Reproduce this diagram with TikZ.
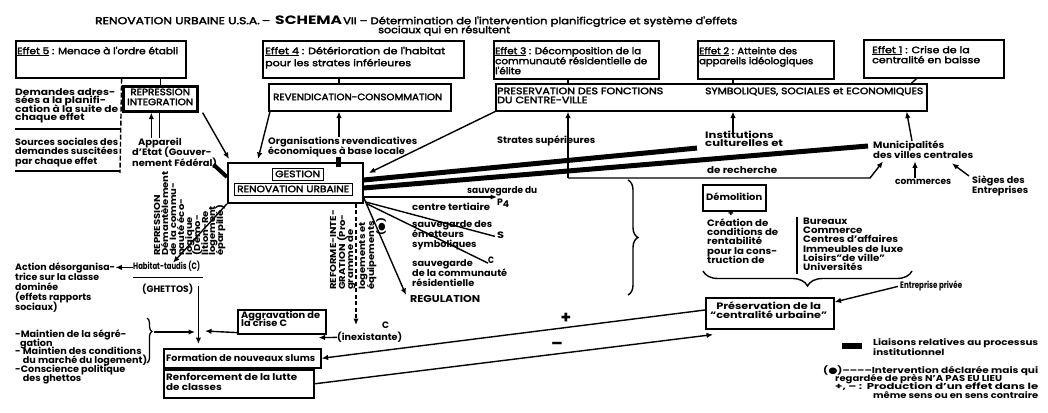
\documentclass[tikz,border=0pt]{standalone}
\usepackage{fontspec}
\usepackage{graphicx}
\usepackage{array}
\setmainfont{Poppins}
\newfontfamily\pmed{Poppins}[FakeBold=2.5]
\newfontfamily\dvsym{DejaVu Sans}
\usetikzlibrary{arrows.meta,decorations.pathreplacing,calc}

% table columns whose cells do not change the row height
\newcolumntype{L}{>{\setbox0=\hbox\bgroup}l<{\egroup\smash{\box0}}}
\newcolumntype{C}{>{\setbox0=\hbox\bgroup}c<{\egroup\smash{\box0}}}
\def\capv{6.5}

% [align]{style}{name}{x}{first baseline}{line pitch}{lines}{width}{text}
\newcommand\putlabel[9][L]{%
  \node[#2] (#3) at (#4,{#5-0.7*#6}) {%
    \pgfmathsetmacro\lblh{#6*#7}%
    \pgfmathsetmacro\lskip{#6*7/\capv}%
    \fontsize{10}{\lskip pt}\selectfont
    \resizebox*{#8pt}{\lblh pt}{\begin{tabular}{@{}#1@{}}#9\end{tabular}}};}
% vertical text column: {name}{x centre}{bottom y}{text}
\newcommand\vlabel[4]{\node[lb,rotate=90] (#1) at ({#2-2.7},#3)
  {\scalebox{1}[0.86]{\begin{tabular}{@{}L@{}}#4\end{tabular}}};}
\newcommand\boxnode[5][]{\node[bx,minimum width=#4pt,minimum height=#5pt,#1] (#2) at (#3) {};}

\tikzset{
  lr/.style={inner sep=0pt,anchor=north west,font=\pmed\fontsize{10}{9.5}\selectfont},
  lb/.style={inner sep=0pt,anchor=north west,font=\fontsize{10}{9.5}\selectfont\bfseries},
  bx/.style={draw,line width=1.6pt,inner sep=0pt,anchor=north west},
  ln/.style={line width=1.4pt},
  arr/.style={line width=1.4pt,-{Latex[length=6.5pt,width=5.5pt]}},
  bar/.style={line width=5pt},
  sign/.style={inner sep=0pt,anchor=center,font=\fontsize{17}{17}\selectfont\bfseries},
}

\begin{document}
\begin{tikzpicture}[x=1pt,y=-1pt]
\useasboundingbox (0,0) rectangle (1048,412);

% ---------- boxes ----------
\boxnode{e5}{15,40}{170}{37}
\boxnode{e4}{262,40}{201}{37}
\boxnode{e3}{493,40}{165}{38}
\boxnode{e2}{697,40}{136}{38}
\boxnode{e1}{863,39}{140}{38}
\boxnode[line width=2.6pt]{rep}{122,85}{74}{25}
\boxnode{rev}{268,83}{182}{27}
\boxnode{pres}{495,83}{431}{27}
\boxnode[line width=1.8pt]{gest}{227,162}{135}{40}
\boxnode[line width=1.2pt]{gin}{272,168}{51}{12}
\boxnode[line width=1.2pt]{rin}{234,183}{118}{12}
\boxnode{demol}{702,184}{63}{26}
\boxnode{pres2}{705,297}{128}{31}
\boxnode{agg}{237,309}{88}{24}
\boxnode{form}{163,348}{157}{19}
\boxnode{renf}{163,369}{150}{28}
\node[fill,inner sep=0pt,anchor=north west,minimum width=20pt,minimum height=6pt] (legbar) at (842,343) {};

% ---------- title ----------
\def\capv{7}
\putlabel{lr}{ta}{95}{24}{9.5}{1}{175}{RENOVATION URBAINE U.S.A.\,–}
\def\capv{8.5}
\putlabel{lb}{tb}{275}{24}{11.5}{1}{67}{SCHEMA}
\def\capv{6.8}
\putlabel{lr}{tc}{343}{24}{9.5}{1}{394}{VII – Détermination de l'intervention planificgtrice et système d'effets}
\putlabel{lr}{td}{378}{33}{9.5}{1}{132}{sociaux qui en résultent}

% ---------- effects ----------
\def\capv{6.5}
\putlabel{lr}{e5t}{17}{54}{10}{1}{161}{\underline{Effet 5} : Menace à l'ordre établi}
\putlabel{lr}{e4t}{265}{54}{12}{2}{180}{\underline{Effet 4} : Détérioration de l'habitat\\pour les strates inférieures}
\putlabel{lr}{e3t}{495}{54}{10}{3}{152}{\underline{Effet 3} : Décomposition de la\\communauté résidentielle de\\l'élite}
\putlabel{lr}{e2t}{699}{54}{10}{2}{114}{\underline{Effet 2} : Atteinte des\\appareils idéologiques}
\putlabel{lr}{e1t}{872}{53}{10}{2}{108}{\underline{Effet 1} : Crise de la\\centralité en baisse}

% ---------- demands ----------
\putlabel[C]{lr}{rept}{127}{95}{10}{2}{66}{REPRESSION\\INTEGRATION}
\putlabel{lr}{revt}{273}{100}{9.5}{1}{169}{REVENDICATION-CONSOMMATION}
\putlabel{lr}{prest}{497}{94}{9}{2}{166}{PRESERVATION DES FONCTIONS\\DU CENTRE-VILLE}
\putlabel{lr}{prest2}{705}{94}{9}{1}{218}{SYMBOLIQUES, SOCIALES et ECONOMIQUES}

% ---------- left key ----------
\putlabel{lb}{dem}{15}{95}{8.4}{4}{103}{Demandes adres-\\sées a la planifi-\\cation à la suite de\\chaque effet}
\putlabel{lb}{src}{15}{145}{9.6}{3}{103}{Sources sociales des\\demandes suscitées\\par chaque effet}
\coordinate (tl1) at ([xshift=-65pt]e5.south east);
\coordinate (tl2) at (120,173);
\coordinate (h1a) at (15,129); \coordinate (h1b) at (120,129);
\coordinate (h2a) at (15,171); \coordinate (h2b) at (120,171);
\draw[ln,dash pattern=on 5pt off 2pt] (tl1) -- (tl2);
\draw[ln] (h1a) -- (h1b);
\draw[ln] (h2a) -- (h2b);

% ---------- social sources ----------
\putlabel{lb}{app}{132}{145}{10.5}{3}{85}{\hspace*{6pt}Appareil\\d'Etat (Gouver-\\nement Fédéral)}
\putlabel{lb}{org}{268}{144}{10}{2}{149}{Organisations revendicatives\\économiques à base locale}
\putlabel{lb}{strates}{497}{143}{9}{1}{98}{Strates supérieures}
\putlabel{lb}{inst}{705}{138}{8.5}{2}{78}{Institutions\\culturelles et}
\putlabel{lb}{rech}{707}{173}{9}{1}{70}{de recherche}
\putlabel{lb}{munic}{873}{148}{10}{2}{100}{Municipalités\\des villes centrales}
\putlabel{lb}{comm}{895}{184}{9}{1}{56}{commerces}
\putlabel{lb}{sieges}{972}{183}{10}{2}{56}{Sièges des\\Entreprises}

% ---------- planning body ----------
\putlabel{lr}{gestt}{275}{177}{9}{1}{45}{GESTION}
\putlabel{lr}{renovt}{237}{192}{9}{1}{112}{RENOVATION URBAINE}

\putlabel{lb}{sdu}{467}{193}{9}{1}{70}{sauvegarde du}
\putlabel{lb}{ctert}{412}{210}{9}{1}{78}{centre tertiaire}
\putlabel{lb}{p4}{497}{205}{9}{1}{12}{P\raisebox{-3pt}{4}}
\putlabel{lb}{sdes}{412}{227}{10}{3}{80}{sauvegarde des\\émetteurs\\symboliques}
\putlabel{lb}{S}{497}{238}{9}{1}{7}{S}
\putlabel{lb}{scom}{412}{266}{10}{3}{95}{sauvegarde\\de la communauté\\résidentielle}
\putlabel{lb}{C1}{488}{263}{9}{1}{6}{C}
\def\capv{7}
\putlabel{lb}{regul}{410}{302}{10}{1}{70}{REGULATION}
\def\capv{6.5}

\vlabel{r1}{157}{256}{REPRESSION}
\vlabel{r2}{165}{256}{Démantèlement}
\vlabel{r3}{173}{256}{de la commu-}
\vlabel{r4}{181}{256}{nauté éco-}
\vlabel{r5}{189}{256}{logique}
\vlabel{r6}{197}{256}{(Démo-}
\vlabel{r7}{205}{256}{lition-Re}
\vlabel{r8}{212}{256}{logement}
\vlabel{r9}{220}{256}{éparpillé)}
\vlabel{f1}{333}{290}{REFORME-INTE-}
\vlabel{f2}{342}{290}{GRATION (Pro-}
\vlabel{f3}{350}{290}{gramme de}
\vlabel{f4}{362}{290}{logements et}
\vlabel{f5}{371}{290}{équipements}
\vlabel{f6}{381}{236}{({\dvsym●})}

% ---------- right part ----------
\putlabel{lb}{demt}{706}{200}{9}{1}{56}{Démolition}
\node[sign,font=\fontsize{9}{9}\selectfont\bfseries] (dplus) at (731,213.5) {+};
\putlabel{lb}{crea}{707}{226}{9.3}{5}{71}{Création de\\conditions de\\rentabilité\\pour la cons-\\truction de}
\putlabel{lb}{bur}{803}{224}{9.3}{6}{100}{Bureaux\\Commerce\\Centres d'affaires\\Immeubles de luxe\\Loisirs"de ville"\\Universités}
\putlabel{lb}{entr}{900}{288}{9}{1}{62}{Entreprise privée}
\putlabel[C]{lb}{pres2t}{710}{309}{9.5}{2}{117}{Préservation de la\\“centralité urbaine”}

% ---------- lower left ----------
\putlabel{lb}{habt}{133}{269}{9}{1}{67}{Habitat-taudis (C)}
\putlabel{lb}{ghet}{142}{292}{9}{1}{51}{(GHETTOS)}
\putlabel{lb}{act}{15}{270}{10}{5}{100}{Action désorganisa-\\trice sur la classe\\dominée\\(effets rapports\\sociaux)}
\putlabel{lb}{maint}{15}{337}{8.8}{6}{132}{-Maintien de la ségré-\\\hspace*{5pt}gation\\- Maintien des conditions\\\hspace*{8pt}du marché du logement)\\-Conscience politique\\\hspace*{8pt}des ghettos}
\putlabel{lb}{aggt}{241}{318}{8.5}{2}{79}{Aggravation de\\la crise C}
\putlabel{lb}{cin}{382}{328}{9}{1}{7}{C}
\putlabel{lb}{inex}{337}{340}{9}{1}{65}{(inexistante)}
\putlabel{lb}{formt}{166}{361}{9}{1}{149}{Formation de nouveaux slums}
\putlabel{lb}{renft}{166}{380}{10}{2}{131}{Renforcement de la lutte\\de classes}
\node[sign] (plus) at (566,318) {+};
\node[sign] (minus) at (557,346) {\textendash};

% ---------- legend ----------
\def\capv{6}
\putlabel{lb}{leg1}{873}{345}{10}{2}{165}{Liaisons relatives au processus\\institutionnel}
\putlabel{lb}{leg2}{823}{373}{8.5}{1}{215}{({\dvsym●})\textendash\textendash\textendash\textendash Intervention déclarée mais qui}
\putlabel{lb}{leg3}{835}{381}{8.5}{1}{167}{regardée de près N'A PAS EU LIEU}
\putlabel{lb}{leg4}{835}{389.5}{8.5}{1}{203}{+, – :\hspace{4pt}Production d'un effet dans le}
\putlabel{lb}{leg5}{873}{398}{8.5}{1}{165}{même sens ou en sens contraire}

% ---------- connectors: effects to demands ----------
\draw[ln] (rep.north) -- (rep.north |- e5.south);
\draw[ln] ([xshift=-21pt]rev.north) -- ([xshift=-21pt]rev.north |- e4.south);
\coordinate (pA) at ([xshift=73pt]pres.south west);
\coordinate (pB) at ([xshift=238pt]pres.south west);
\draw[ln] (pA |- pres.north) -- (pA |- e3.south);
\draw[ln] (pB |- pres.north) -- (pB |- e2.south);
\draw[ln] ([xshift=-88pt]e1.south east) -- ([xshift=-16pt]pres.north east);

% ---------- sources to demands ----------
\coordinate (sv) at (568,178);
\coordinate (tl) at (870,178);
\draw[arr] (sv) -- (pA);
\draw[arr] (inst.north -| pB) -- (pB);
\draw[arr] ([xshift=39pt]munic.north west) -- ([xshift=-21pt]pres.south east);
\draw[arr] ([xshift=20pt]comm.north west) -- ([xshift=20pt]comm.north west |- munic.south);
\draw[arr] ([xshift=-3pt]sieges.north west) -- ([xshift=79pt,yshift=-2pt]munic.south west);
\draw[arr] (sv) -- (tl) -- ([xshift=10pt]munic.south west);

% ---------- institutional links ----------
\draw[bar] ([yshift=-18pt]gest.north east) -- ([xshift=-8pt,yshift=-16pt]inst.north west);
\draw[bar] ([yshift=-26pt]gest.north east) -- ([xshift=-5pt,yshift=-5pt]munic.north west);
\draw[bar] ([xshift=70pt]org.south west) -- ([xshift=111pt,yshift=-5pt]gest.north west);
\draw[line width=4pt] ([xshift=-4pt,yshift=5pt]app.south east) -- ([yshift=-15pt]gest.north west);

% ---------- into the planning node ----------
\draw[arr] ([xshift=4pt]rep.south east) -- ([xshift=2pt,yshift=3pt]gest.north west);
\draw[arr] ([xshift=2pt]rev.south west) -- ([xshift=31pt,yshift=3pt]gest.north west);
\draw[arr] (pres.south west) -- ([xshift=5pt,yshift=-11pt]gest.north east);
\draw[arr] ([xshift=71pt]org.north west) -- ([xshift=71pt]org.north west |- rev.south);
\draw[arr] ([xshift=-9pt]rep.south |- app.north) -- ([xshift=-9pt]rep.south);
\draw[ln] ([xshift=-1pt]rep.south) -- ([xshift=-1pt]rep.south |- app.north);

% ---------- out of the planning node ----------
\coordinate (gP) at ([yshift=-35pt]gest.north east);
\draw[arr] (gP) -- (gP -| p4.west);
\draw[ln] ([xshift=2pt,yshift=-40pt]gest.north east) -- ([xshift=-2pt]S.west);
\draw[ln] ([xshift=3pt]gest.south east) -- ([yshift=3pt]C1.south west);
\draw[arr] ([yshift=6pt]gest.south east) -- ([xshift=-4pt]regul.north west);
\draw[arr] (gest.south west) -- ([xshift=40pt]habt.north west);
\coordinate (dz) at (356,325);
\draw[arr,dash pattern=on 4pt off 2.5pt] ([xshift=129pt]gest.south west) -- (dz);

% ---------- lower left ----------
\draw[arr] (habt.west) -- (habt.west -| act.east);
\draw[ln] ([yshift=-5.5pt]habt.south west) -- ([xshift=3pt,yshift=-5.5pt]habt.south east);
\draw[arr,shorten >=4pt] ([xshift=5pt]ghet.north east) -- ([xshift=5pt]ghet.north east |- form.north);
\coordinate (mb1) at (147,318); \coordinate (mb2) at (147,363);
\coordinate (mt) at (154,332); \coordinate (mj) at (195,332); \coordinate (aj) at (205,331);
\draw[line width=1.3pt,decorate,decoration={brace,amplitude=5pt,aspect=0.3}] (mb1) -- (mb2);
\draw[arr] (mt) -- (mj);
\draw[arr] ([yshift=2pt]agg.south west) -- (aj);
\draw[arr] ([yshift=1pt]inex.west) -- ([xshift=-8pt,yshift=-3pt]agg.south east);
\draw[arr] ([yshift=-13pt]pres2.north west) -- (form.east);
\draw[arr] (renf.east) -- ([xshift=8pt,yshift=-5pt]pres2.south west);
\draw[arr] ([xshift=-2pt]entr.west) -- ([yshift=-5pt]pres2.north east);

% ---------- braces and list bar ----------
\coordinate (bA) at (628,180); \coordinate (bB) at (628,295);
\draw[line width=1.4pt,decorate,decoration={brace,amplitude=10pt}] (bA) -- (bB);
\coordinate (bC) at (912,271); \coordinate (bD) at (703,271);
\draw[line width=1.4pt,decorate,decoration={brace,amplitude=15pt}] (bC) -- (bD);
\draw[line width=1.8pt] ([xshift=-6pt]bur.north west) -- ([xshift=-6pt]bur.south west);
\end{tikzpicture}
\end{document}
